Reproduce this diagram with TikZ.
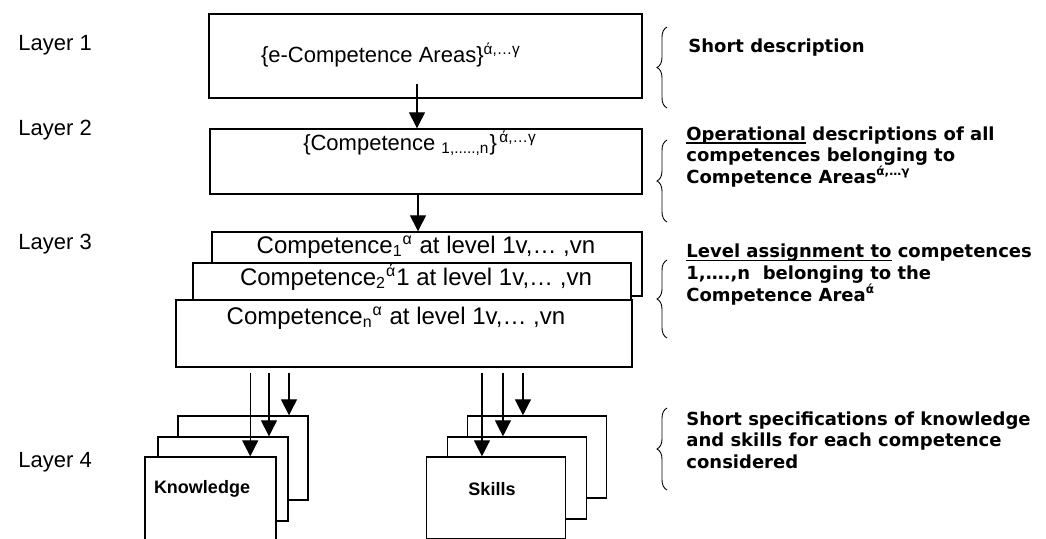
\documentclass[tikz,border=0pt]{standalone}
\usepackage{fontspec}
\setmainfont{Liberation Sans}
\newfontfamily\notefont{DejaVu Sans}
\usetikzlibrary{arrows.meta,decorations.pathreplacing,calc}

\newcommand\cidx[2]{\smash{\textsubscript{#1}\textsuperscript{#2}}}
\newcommand\uline[1]{\setbox0\hbox{#1}\rlap{\rule[-1.6pt]{\wd0}{0.55pt}}\box0{}}

\tikzset{
  box/.style={draw, fill=white, line width=0.7pt, inner sep=0pt},
  arr/.style={-{Triangle[width=8pt,length=8pt]}, line width=0.65pt},
  brc/.style={decorate, decoration={brace,amplitude=5pt}, line width=0.45pt},
  note/.style={anchor=west, align=left, inner sep=0pt,
    font=\notefont\bfseries\fontsize{9}{10.8}\selectfont},
  layer/.style={anchor=west, inner sep=0pt, font=\fontsize{11}{13}\selectfont},
  btext/.style={inner sep=0pt, font=\fontsize{11}{13}\selectfont},
  ltext/.style={inner sep=0pt, font=\fontsize{12}{14}\selectfont},
  sheet/.style={box, minimum width=65pt, minimum height=42pt},
  ssheet/.style={box, minimum width=69.5pt, minimum height=41pt},
}

\begin{document}
\begin{tikzpicture}[x=0.5pt, y=-0.5pt]
  \clip (0,0) rectangle (1046,538);

  % layer names
  \node[layer] (l1) at (18,45) {Layer 1};
  \node[layer] (l2) at (18,130) {Layer 2};
  \node[layer] (l3) at (18,244) {Layer 3};
  \node[layer] (l4) at (18,462) {Layer 4};

  % layers 1 and 2
  \node[box, minimum width=216.5pt, minimum height=42pt] (b1) at (425.5,56) {};
  \node[btext] (t1) at (391,55) {\{e-Competence Areas\}\textsuperscript{ά,…γ}};
  \node[box, minimum width=216pt, minimum height=32.5pt] (b2) at (426,161.5) {};
  \node[btext] (t2) at (420,143)
    {\{Competence \textsubscript{1,.....,n}\}\textsuperscript{\,ά,…γ}};

  % layer 3, stacked sheets
  \node[box, minimum width=215pt, minimum height=32pt] (b3a) at (427,264) {};
  \node[box, minimum width=219pt, minimum height=23.5pt] (b3b) at (412,286.5) {};
  \node[box, minimum width=228pt, minimum height=33.5pt] (b3c) at (404,333.5) {};
  \node[ltext] (t3a) at (426,247) {Competence\cidx{1}{α} at level 1v,… ,vn};
  \node[ltext] (t3b) at (416,279) {Competence\cidx{2}{ά}1 at level 1v,… ,vn};
  \node[ltext] (t3c) at (396,318) {Competence\cidx{n}{α} at level 1v,… ,vn};

  % layer 4, knowledge and skills sheets
  \node[sheet] (kb) at (243,458) {};
  \node[sheet] (km) at (223,479) {};
  \node[sheet, minimum width=65.5pt] (kf) at (210.5,499) {};
  \node[inner sep=0pt, font=\bfseries\fontsize{9}{11}\selectfont] (kt) at (202,489) {Knowledge};
  \node[ssheet] (sb) at (537,457) {};
  \node[ssheet] (sm) at (517,478) {};
  \node[ssheet] (sf) at (496,498) {};
  \node[inner sep=0pt, font=\bfseries\fontsize{9}{11}\selectfont] (st) at (492,489) {Skills};

  % arrows
  \draw[arr] ([xshift=-4.25pt,yshift=7.5pt]b1.south) -- ([xshift=-4.25pt]b1.south |- b2.north);
  \draw[arr] ([xshift=-4pt]b2.south) -- ([xshift=-4pt]b2.south |- b3a.north);
  \coordinate (k1) at ($(kf.north west)!0.8!(kf.north east)$);
  \coordinate (k2) at ($(km.north west)!0.85!(km.north east)$);
  \coordinate (k3) at ($(kb.north west)!0.85!(kb.north east)$);
  \coordinate (s1) at ($(sf.north west)!0.4!(sf.north east)$);
  \coordinate (s2) at ($(sm.north west)!0.4!(sm.north east)$);
  \coordinate (s3) at ($(sb.north west)!0.4!(sb.north east)$);
  \foreach \e in {k1,k2,k3,s1,s2,s3}
    \draw[arr, shorten <=2.5pt] (b3c.south -| \e) -- (\e);

  % braces and notes
  \draw[brc] (667,108) -- (667,27);
  \draw[brc] (667,222) -- (667,140);
  \draw[brc] (667,338) -- (667,260);
  \draw[brc] (667,490) -- (667,408);
  \node[note] (n1) at (688,48) {Short description};
  \node[note] (n2) at (686,157) {\uline{Operational} descriptions of all\\
    competences belonging to\\Competence Areas\textsuperscript{ά,…γ}};
  \node[note] (n3) at (686,274.5) {\uline{Level assignment to} competences\\
    1,….,n~~belonging to the\\Competence Area\textsuperscript{ά}};
  \node[note] (n4) at (686,440) {Short specifications of knowledge\\
    and skills for each competence\\considered};
\end{tikzpicture}
\end{document}
